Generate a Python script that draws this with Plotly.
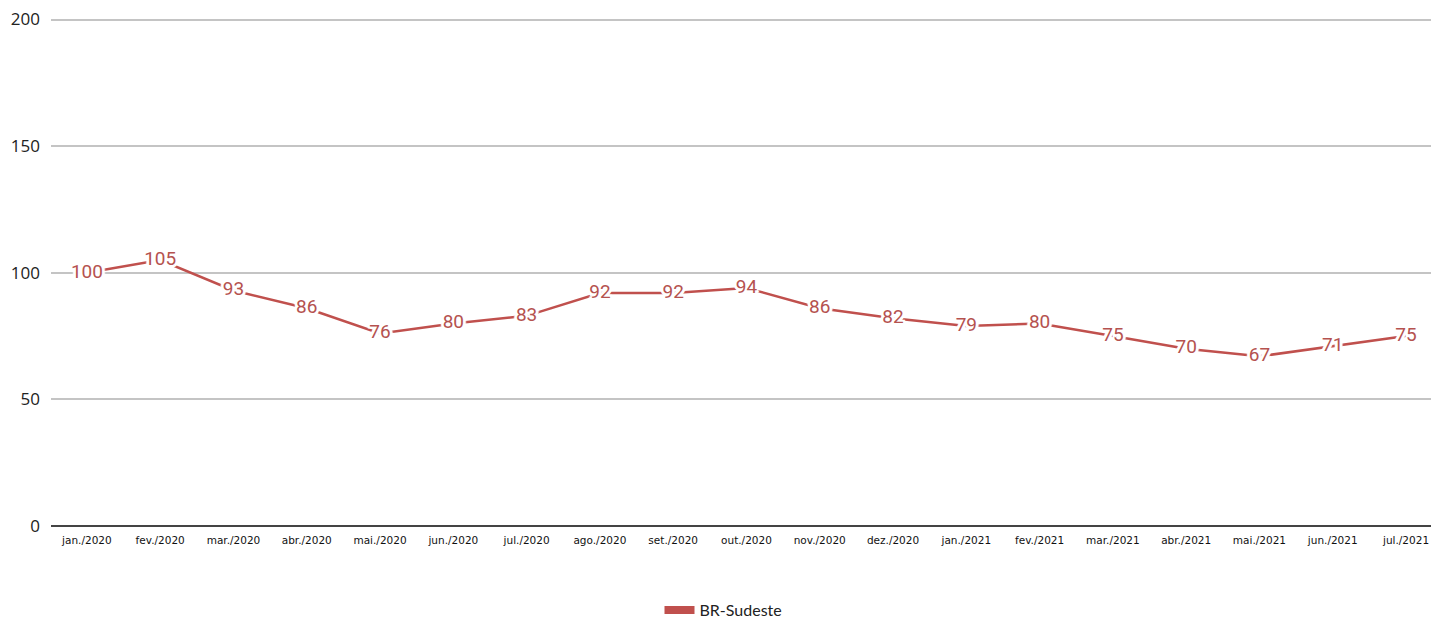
import plotly.graph_objects as go

months = ["jan./2020", "fev./2020", "mar./2020", "abr./2020", "mai./2020", "jun./2020",
          "jul./2020", "ago./2020", "set./2020", "out./2020", "nov./2020", "dez./2020",
          "jan./2021", "fev./2021", "mar./2021", "abr./2021", "mai./2021", "jun./2021",
          "jul./2021"]
sudeste = [100, 105, 93, 86, 76, 80, 83, 92, 92, 94, 86, 82, 79, 80, 75, 70, 67, 71, 75]
y_ticks = [0, 50, 100, 150, 200]
series_name = "BR-Sudeste"

line_color = "#c0504d"
halo = ", ".join(["white 0px 0px 2px"] * 6 + [
    "white 2px 0px 0px", "white -2px 0px 0px", "white 0px 2px 0px", "white 0px -2px 0px",
    "white 2px 2px 0px", "white -2px -2px 0px", "white 2px -2px 0px", "white -2px 2px 0px",
    "white 3px 0px 1px", "white -3px 0px 1px"])

fig = go.Figure()
fig.add_trace(go.Scatter(
    x=months, y=sudeste, mode="lines",
    line=dict(color=line_color, width=2.5),
    showlegend=False, hoverinfo="skip",
))
fig.add_trace(go.Scatter(
    x=months, y=sudeste, mode="text", text=[str(v) for v in sudeste],
    textposition="middle center",
    textfont=dict(family="Roboto", size=19, color="#b5524f", shadow=halo),
    showlegend=False, cliponaxis=False,
))
fig.add_trace(go.Scatter(
    x=[None], y=[None], mode="lines", name=series_name,
    line=dict(color=line_color, width=8), showlegend=True,
))

fig.update_layout(
    width=1431, height=610,
    margin=dict(l=43, r=0, t=9, b=92),
    paper_bgcolor="white", plot_bgcolor="white",
    xaxis=dict(
        type="category", range=[-0.49, 18.45],
        showgrid=False, showline=False, zeroline=False,
        tickfont=dict(family="DejaVu Sans", size=10.5, color="#111"),
        ticks="", ticklabelstandoff=6,
    ),
    yaxis=dict(
        range=[0, 201], tickvals=y_ticks,
        showgrid=True, gridcolor="#c4c4c4", gridwidth=2,
        zeroline=True, zerolinecolor="#444444", zerolinewidth=2,
        showline=False, ticks="",
        tickfont=dict(family="Open Sans", size=17, color="#222"),
        ticklabelstandoff=10, ticklabeloverflow="allow",
    ),
    legend=dict(
        orientation="h", xref="container", yref="container",
        x=0.5, xanchor="center", y=0.013, yanchor="middle",
        font=dict(family="Lato", size=16, color="#222"),
    ),
)

fig.write_html("out.html")
